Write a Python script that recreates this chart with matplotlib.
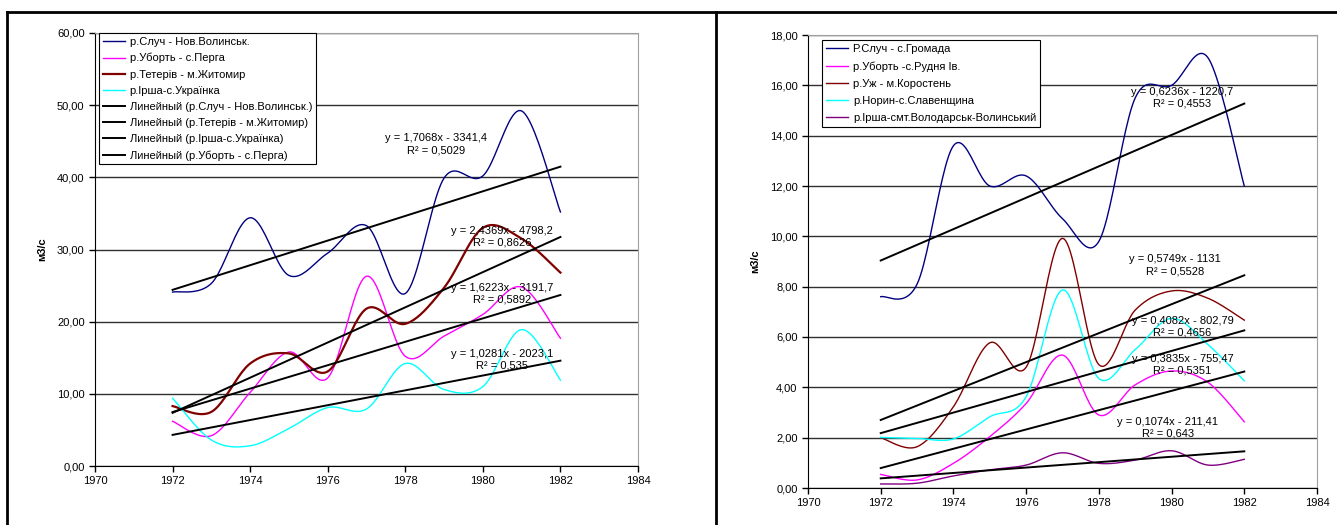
import numpy as np
import matplotlib.pyplot as plt
from matplotlib.lines import Line2D
from matplotlib.ticker import FuncFormatter

plt.rcParams['font.family'] = ['Liberation Sans', 'DejaVu Sans']
plt.rcParams['font.size'] = 8

years = list(range(1972, 1983))

# left chart: mean flow, m3/s
sluch_nv = [24.1, 25.3, 34.4, 26.4, 29.5, 33.3, 23.9, 39.9, 40.2, 49.2, 35.2]
ubort_perga = [6.2, 4.2, 10.2, 15.8, 12.2, 26.3, 15.2, 18.0, 21.0, 24.8, 17.7]
teteriv_zh = [8.3, 7.5, 14.2, 15.6, 13.1, 21.8, 19.7, 24.7, 33.0, 31.5, 26.8]
irsha_ukr = [9.4, 3.6, 2.8, 5.2, 8.1, 7.9, 14.2, 10.6, 11.0, 18.9, 11.9]

# right chart
sluch_hr = [7.6, 8.1, 13.6, 12.0, 12.4, 10.7, 9.8, 15.5, 16.0, 17.1, 12.0]
ubort_rud = [0.54, 0.32, 0.98, 2.04, 3.36, 5.28, 2.9, 4.1, 4.65, 4.2, 2.63]
uzh_kor = [2.0, 1.64, 3.23, 5.77, 4.8, 9.92, 4.9, 7.07, 7.83, 7.54, 6.67]
noryn_sl = [2.01, 1.97, 1.95, 2.83, 3.63, 7.87, 4.35, 5.5, 6.74, 5.7, 4.26]
irsha_vol = [0.16, 0.19, 0.48, 0.72, 0.91, 1.40, 0.98, 1.11, 1.48, 0.91, 1.14]

# linear trends (slope, intercept, R^2)
left_trends = [(1.7068, -3341.4, '0,5029'), (2.4369, -4798.2, '0,8626'),
               (1.6223, -3191.7, '0,5892'), (1.0281, -2023.1, '0,535')]
right_trends = [(0.6236, -1220.7, '0,4553'), (0.5749, -1131, '0,5528'),
                (0.4082, -802.79, '0,4656'), (0.3835, -755.47, '0,5351'),
                (0.1074, -211.41, '0,643')]


def smooth(x, y, n=24):
    # bezier smoothing like the spreadsheet's "smoothed line"
    x = np.asarray(x, float)
    y = np.asarray(y, float)
    px = np.concatenate([[x[0]], x, [x[-1]]])
    py = np.concatenate([[y[0]], y, [y[-1]]])
    t = np.linspace(0, 1, n)[:, None]
    xs, ys = [], []
    for i in range(1, len(px) - 2):
        p0 = np.array([px[i], py[i]])
        p3 = np.array([px[i + 1], py[i + 1]])
        c1 = p0 + (p3 - np.array([px[i - 1], py[i - 1]])) / 6
        c2 = p3 - (np.array([px[i + 2], py[i + 2]]) - p0) / 6
        b = (1 - t) ** 3 * p0 + 3 * (1 - t) ** 2 * t * c1 + 3 * (1 - t) * t ** 2 * c2 + t ** 3 * p3
        xs.append(b[:, 0])
        ys.append(b[:, 1])
    return np.concatenate(xs), np.concatenate(ys)


def fmt(v, pos):
    return f'{v:.2f}'.replace('.', ',')


def eq_text(k, b, r2):
    sign = '-' if b < 0 else '+'
    kk = f'{k:.4f}'.replace('.', ',')
    bb = f'{abs(b):g}'.replace('.', ',')
    return f'y = {kk}x {sign} {bb}\nR² = {r2}'


def setup(ax, ymax, ystep):
    ax.set_xlim(1970, 1984)
    ax.set_ylim(0, ymax)
    ax.set_xticks(range(1970, 1985, 2))
    ax.set_yticks(np.arange(0, ymax + 0.01, ystep))
    ax.yaxis.set_major_formatter(FuncFormatter(fmt))
    ax.grid(axis='y', color='#303030', lw=1)
    ax.set_axisbelow(True)
    for s in ['top', 'right']:
        ax.spines[s].set_color('#a0a0a0')
    for s in ['left', 'bottom']:
        ax.spines[s].set_color('black')
    ax.tick_params(direction='out', length=4, width=1, labelsize=8, colors='black')
    ax.set_ylabel('м3/с', fontweight='bold', fontsize=8)


fig = plt.figure(figsize=(13.37, 5.25), dpi=100)

# panel frames
fig.add_artist(Line2D([7 / 1337, 1], [513 / 525, 513 / 525], color='black', lw=2))
fig.add_artist(Line2D([7 / 1337, 7 / 1337], [0, 513 / 525], color='black', lw=2))
fig.add_artist(Line2D([716 / 1337, 716 / 1337], [0, 513 / 525], color='black', lw=2))

legend_kw = dict(loc='upper left', borderaxespad=0, fancybox=False, edgecolor='black',
                 framealpha=1, handlelength=2.0, handletextpad=0.4, borderpad=0.35, fontsize=8)

### left chart
ax1 = fig.add_axes([95 / 1337, 59 / 525, 543 / 1337, 433 / 525])
setup(ax1, 60, 10)
ax1.yaxis.set_label_coords(-0.088, 0.5)

ax1.plot(*smooth(years, sluch_nv), color='#000080', lw=1, label='р.Случ - Нов.Волинськ.')
ax1.plot(*smooth(years, ubort_perga), color='#ff00ff', lw=1, label='р.Уборть - с.Перга')
ax1.plot(*smooth(years, teteriv_zh), color='#800000', lw=1.6, label='р.Тетерів - м.Житомир')
ax1.plot(*smooth(years, irsha_ukr), color='#00ffff', lw=1, label='р.Ірша-с.Українка')

left_trend_names = ['Линейный (р.Случ - Нов.Волинськ.)', 'Линейный (р.Тетерів - м.Житомир)',
                    'Линейный (р.Ірша-с.Українка)', 'Линейный (р.Уборть - с.Перга)']
left_label_pos = [(1978.8, 44.6), (1980.5, 31.8), (1980.5, 23.9), (1980.5, 14.7)]
tx = np.array([1972, 1982])
for i, (k, b, r2) in enumerate(left_trends):
    ax1.plot(tx, k * tx + b, color='black', lw=1.4)
    ax1.text(*left_label_pos[i], eq_text(k, b, r2), ha='center', va='center',
             fontsize=8, linespacing=1.25)
handles, labels = ax1.get_legend_handles_labels()
th = [Line2D([], [], color='black', lw=1.4) for _ in left_trend_names]
ax1.legend(handles[:4] + th, labels[:4] + left_trend_names, bbox_to_anchor=(0.0074, 1.0),
           labelspacing=0.55, **legend_kw)
ax1.get_legend().get_frame().set_linewidth(0.8)

### right chart
ax2 = fig.add_axes([808 / 1337, 37 / 525, 509 / 1337, 453 / 525])
setup(ax2, 18, 2)
ax2.yaxis.set_label_coords(-0.094, 0.5)

ax2.plot(*smooth(years, sluch_hr), color='#000080', lw=1, label='Р.Случ - с.Громада')
ax2.plot(*smooth(years, ubort_rud), color='#ff00ff', lw=1, label='р.Уборть -с.Рудня Ів.')
ax2.plot(*smooth(years, uzh_kor), color='#800000', lw=1, label='р.Уж - м.Коростень')
ax2.plot(*smooth(years, noryn_sl), color='#00ffff', lw=1, label='р.Норин-с.Славенщина')
ax2.plot(*smooth(years, irsha_vol), color='#800080', lw=1, label='р.Ірша-смт.Володарськ-Волинський')

right_label_pos = [(1980.3, 15.5), (1980.1, 8.85), (1980.3, 6.4), (1980.3, 4.9), (1979.9, 2.4)]
for i, (k, b, r2) in enumerate(right_trends):
    ax2.plot(tx, k * tx + b, color='black', lw=1.4)
    ax2.text(*right_label_pos[i], eq_text(k, b, r2), ha='center', va='center',
             fontsize=8, linespacing=1.25)

ax2.legend(bbox_to_anchor=(0.028, 0.989), labelspacing=0.65, **legend_kw)
ax2.get_legend().get_frame().set_linewidth(0.8)

fig.savefig('out.png', dpi=100)
